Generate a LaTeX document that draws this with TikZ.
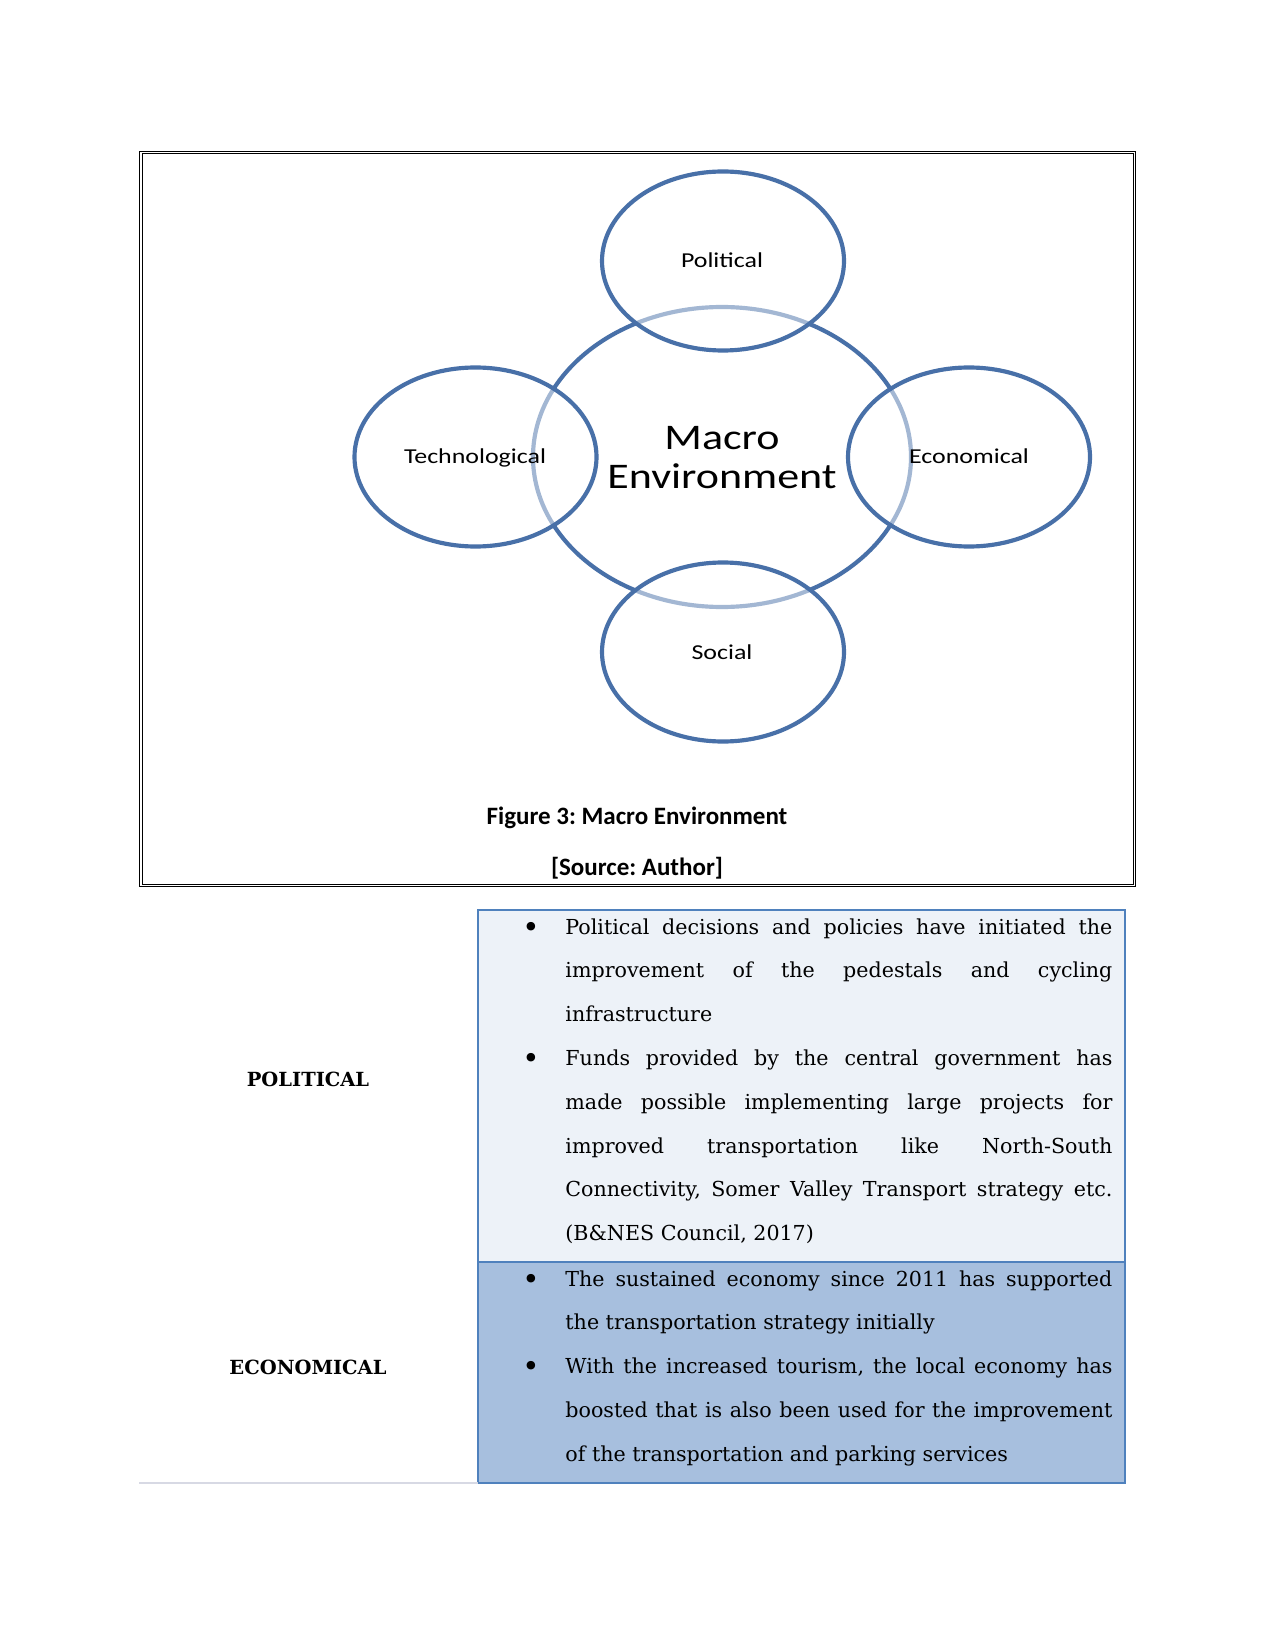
\documentclass[tikz,border=0pt]{standalone}
\usepackage{fontspec}
\usetikzlibrary{shapes.geometric}
\setmainfont{DejaVu Serif}
\newfontfamily\capfont{Carlito}
\newfontfamily\circfont{Carlito}[FakeStretch=1.22]
\newfontfamily\bodyfont{DejaVu Serif}
\definecolor{circdark}{RGB}{72,112,168}
\definecolor{polfill}{RGB}{237,242,248}
\definecolor{ecofill}{RGB}{167,191,222}
\definecolor{tabborder}{RGB}{79,129,189}
\definecolor{grayline}{RGB}{215,217,228}
\tikzset{
  outerell/.style={ellipse, draw=circdark, line width=2pt, fill=white, fill opacity=0.5, draw opacity=1, inner sep=0pt, minimum width=116.16pt, minimum height=85.92pt},
  macroell/.style={ellipse, draw=circdark, line width=2pt, inner sep=0pt, minimum width=181.44pt, minimum height=144pt},
  circlabel/.style={anchor=base, inner sep=0pt, font=\circfont\fontsize{10.2}{12}\selectfont},
  macrolabel/.style={anchor=base, inner sep=0pt, font=\circfont\fontsize{17.3}{20}\selectfont},
  captext/.style={anchor=base, inner sep=0pt, font=\capfont\bfseries\fontsize{12}{14}\selectfont},
  bodyline/.style={anchor=base west, inner sep=0pt, font=\bodyfont\fontsize{9.9}{12}\selectfont},
  bulletmark/.style={anchor=base, inner sep=0pt, font=\bodyfont\fontsize{14}{16}\selectfont},
  rowhead/.style={anchor=center, inner sep=0pt, font=\bodyfont\bfseries\fontsize{9.35}{12}\selectfont},
}
\newcommand{\jline}[1]{\makebox[262.56pt][s]{#1}}
\frenchspacing
\begin{document}
\frenchspacing
\begin{tikzpicture}[x=0.48pt,y=-0.48pt]
\useasboundingbox (0,0) rectangle (1275,1650);
\fill[white] (0,0) rectangle (1275,1650);
% frame
\draw[line width=0.5pt, double=white, double distance=0.8pt] (141,152.5) rectangle (1134.5,885.5);
% diagram
\node[macroell] (macro) at (722,457) {};
\node[outerell] (pol) at (723,261) {};
\node[outerell] (soc) at (723,652) {};
\node[outerell] (tec) at (475.5,457) {};
\node[outerell] (eco) at (969,457) {};
\node[circlabel] (poltxt) at (722,268) {Political};
\node[circlabel] (soctxt) at (722,659) {Social};
\node[circlabel] (tectxt) at (475,463.5) {Technological};
\node[circlabel] (ecotxt) at (969,463.5) {Economical};
\node[macrolabel] (macro1) at (722,449) {Macro};
\node[macrolabel] (macro2) at (722,488) {Environment};
\node[captext] (cap1) at (637,824) {Figure 3: Macro Environment};
\node[captext] (cap2) at (637,875) {[Source: Author]};
% table
\fill[polfill] (478,910) rectangle (1125,1262);
\fill[ecofill] (478,1262) rectangle (1125,1483);
\draw[tabborder, line width=0.8pt] (478,910) rectangle (1125,1483);
\draw[tabborder, line width=0.8pt] (478,1262) -- (1125,1262);
\draw[grayline, line width=1pt] (139,1483) -- (478,1483);
\node[rowhead] (polhead) at (308,1079) {POLITICAL};
\node[rowhead] (ecohead) at (308,1367) {ECONOMICAL};
% political bullets
\node[bulletmark] (pb1) at (531,937) {•};
\node[bulletmark] (pb2) at (531,1068.4) {•};
\node[bodyline] (pl1) at (565,934) {\jline{Political decisions and policies have initiated the}};
\node[bodyline] (pl2) at (565,977.8) {\jline{improvement of the pedestals and cycling}};
\node[bodyline] (pl3) at (565,1021.6) {infrastructure};
\node[bodyline] (pl4) at (565,1065.4) {\jline{Funds provided by the central government has}};
\node[bodyline] (pl5) at (565,1109.2) {\jline{made possible implementing large projects for}};
\node[bodyline] (pl6) at (565,1153) {\jline{improved transportation like North-South}};
\node[bodyline] (pl7) at (565,1196.8) {\jline{Connectivity, Somer Valley Transport strategy etc.}};
\node[bodyline] (pl8) at (565,1240.6) {(B\&NES Council, 2017)};
% economical bullets
\node[bulletmark] (eb1) at (531,1289) {•};
\node[bulletmark] (eb2) at (531,1376.6) {•};
\node[bodyline] (el1) at (565,1286) {\jline{The sustained economy since 2011 has supported}};
\node[bodyline] (el2) at (565,1329.8) {the transportation strategy initially};
\node[bodyline] (el3) at (565,1373.6) {\jline{With the increased tourism, the local economy has}};
\node[bodyline] (el4) at (565,1417.4) {\jline{boosted that is also been used for the improvement}};
\node[bodyline] (el5) at (565,1461.2) {of the transportation and parking services};
\end{tikzpicture}
\end{document}
